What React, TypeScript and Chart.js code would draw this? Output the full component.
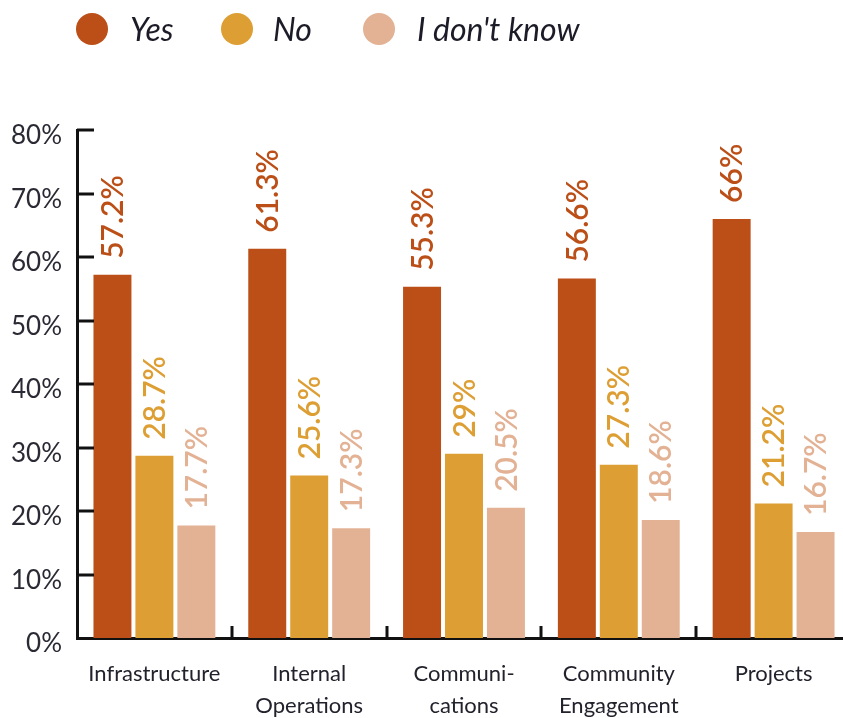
import React, { useEffect, useRef } from "react";
import { Chart, registerables } from "chart.js";

Chart.register(...registerables);

const categories: (string | string[])[] = [
  "Infrastructure",
  ["Internal", "Operations"],
  ["Communi-", "cations"],
  ["Community", "Engagement"],
  "Projects",
];
const seriesNames = ["Yes", "No", "I don't know"];
const yesValues = [57.2, 61.3, 55.3, 56.6, 66];
const noValues = [28.7, 25.6, 29, 27.3, 21.2];
const dontKnowValues = [17.7, 17.3, 20.5, 18.6, 16.7];
const yTicks = [0, 10, 20, 30, 40, 50, 60, 70, 80];

const COLORS = ["#BB4F17", "#DD9E33", "#E3B294"];
const FONT = "Lato, 'Open Sans', sans-serif";
const AXIS_COLOR = "#111111";

const legendPlugin = {
  id: "customLegend",
  afterDraw(chart: any) {
    const ctx = chart.ctx;
    const circleX = [92, 237, 379];
    const textX = [130, 273, 417];
    const cy = 29;
    ctx.save();
    chart.data.datasets.forEach((ds: any, i: number) => {
      ctx.beginPath();
      ctx.fillStyle = ds.backgroundColor;
      ctx.arc(circleX[i], cy, 16, 0, Math.PI * 2);
      ctx.fill();
      ctx.fillStyle = "#1c1c28";
      ctx.font = `italic 32px ${FONT}`;
      ctx.textAlign = "left";
      ctx.textBaseline = "alphabetic";
      ctx.fillText(ds.label, textX[i], 41);
    });
    ctx.restore();
  },
};

const axisTicksPlugin = {
  id: "axisTicks",
  afterDraw(chart: any) {
    const ctx = chart.ctx;
    const y = chart.scales.y;
    const x = chart.scales.x;
    const area = chart.chartArea;
    ctx.save();
    ctx.strokeStyle = AXIS_COLOR;
    ctx.lineWidth = 3;
    ctx.lineCap = "butt";
    yTicks.forEach((v) => {
      if (v === 0) return;
      const py = Math.round(y.getPixelForValue(v));
      ctx.beginPath();
      ctx.moveTo(area.left, py);
      ctx.lineTo(area.left + 17, py);
      ctx.stroke();
    });
    for (let i = 0; i < categories.length - 1; i++) {
      const px = Math.round((x.getPixelForTick(i) + x.getPixelForTick(i + 1)) / 2);
      ctx.beginPath();
      ctx.moveTo(px, area.bottom);
      ctx.lineTo(px, area.bottom - 12);
      ctx.stroke();
    }
    ctx.restore();
  },
};

const valueLabelPlugin = {
  id: "valueLabels",
  afterDatasetsDraw(chart: any) {
    const ctx = chart.ctx;
    ctx.save();
    chart.data.datasets.forEach((ds: any, di: number) => {
      const meta = chart.getDatasetMeta(di);
      meta.data.forEach((el: any, i: number) => {
        const v = ds.data[i];
        ctx.save();
        ctx.translate(el.x, el.y - 16);
        ctx.rotate(-Math.PI / 2);
        ctx.fillStyle = ds.backgroundColor;
        ctx.font = `600 30px ${FONT}`;
        ctx.textAlign = "left";
        ctx.textBaseline = "middle";
        ctx.fillText(`${v}%`, 0, 1);
        ctx.restore();
      });
    });
    ctx.restore();
  },
};

export default function App() {
  const canvasRef = useRef<HTMLCanvasElement | null>(null);

  useEffect(() => {
    if (!canvasRef.current) return;
    const chart = new Chart(canvasRef.current, {
      type: "bar",
      data: {
        labels: categories,
        datasets: [
          { label: seriesNames[0], data: yesValues, backgroundColor: COLORS[0] },
          { label: seriesNames[1], data: noValues, backgroundColor: COLORS[1] },
          { label: seriesNames[2], data: dontKnowValues, backgroundColor: COLORS[2] },
        ],
      },
      options: {
        animation: false,
        responsive: true,
        maintainAspectRatio: false,
        devicePixelRatio: 1,
        layout: { padding: { top: 130, right: 9, left: 0, bottom: 0 } },
        datasets: {
          bar: { categoryPercentage: 0.813, barPercentage: 0.905 },
        },
        plugins: {
          legend: { display: false },
          tooltip: { enabled: false },
        },
        scales: {
          x: {
            grid: { display: false, drawTicks: false },
            border: { display: true, color: AXIS_COLOR, width: 3 },
            ticks: {
              color: "#22222c",
              font: { family: FONT, size: 22, lineHeight: 1.45 },
              padding: 20,
              maxRotation: 0,
              autoSkip: false,
            },
            afterFit: (s: any) => {
              s.height = 80;
            },
          },
          y: {
            min: 0,
            max: 80,
            grid: { display: false, drawTicks: false },
            border: { display: true, color: AXIS_COLOR, width: 3 },
            afterBuildTicks: (s: any) => {
              s.ticks = yTicks.map((v) => ({ value: v }));
            },
            ticks: {
              color: "#2a2a35",
              font: { family: FONT, size: 26 },
              padding: 15,
              labelOffset: 6,
              callback: (v: any) => `${v}%`,
            },
            afterFit: (s: any) => {
              s.width = 77;
            },
          },
        },
      },
      plugins: [legendPlugin, axisTicksPlugin, valueLabelPlugin],
    });
    return () => chart.destroy();
  }, []);

  return (
    <div
      style={{
        position: "fixed",
        left: 0,
        top: 0,
        width: 843,
        height: 718,
        overflow: "hidden",
        background: "#ffffff",
      }}
    >
      <div style={{ position: "relative", width: 860, height: 718 }}>
        <canvas ref={canvasRef} />
      </div>
    </div>
  );
}
